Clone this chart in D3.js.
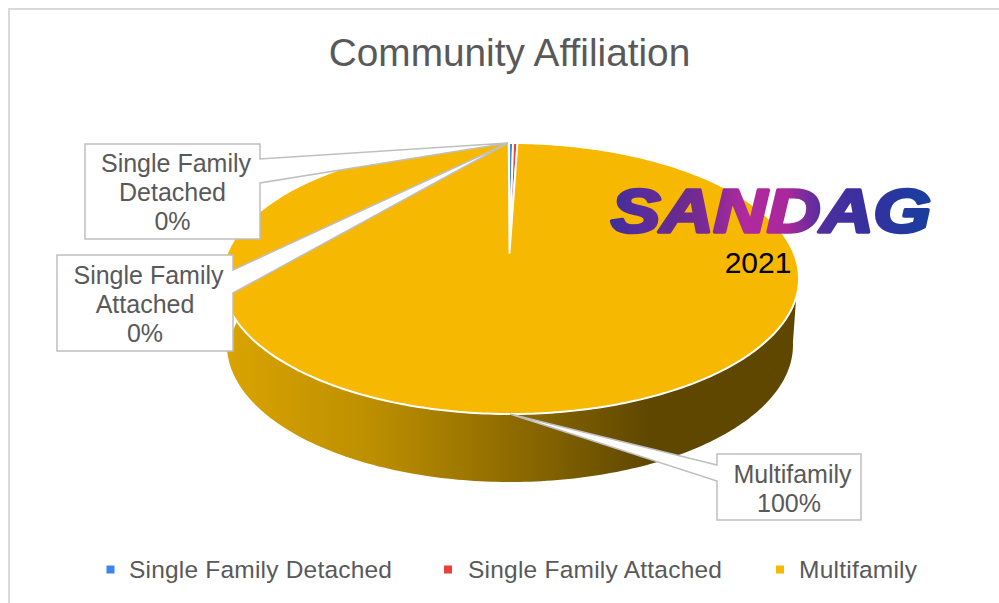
<!DOCTYPE html>
<html><head><meta charset="utf-8">
<script src="https://cdn.jsdelivr.net/npm/d3@7"></script>
<style>html,body{margin:0;padding:0;background:#fff}svg{display:block}text{font-family:"Liberation Sans",Arial,sans-serif}</style>
</head><body><svg id="c" width="999" height="603"></svg>
<script>
const chartTitle = "Community Affiliation";
const categories = ["Single Family Detached", "Single Family Attached", "Multifamily"];
const values = [0.0024, 0.0024, 0.9952];
const colors = ["#3d85ee", "#e8403a", "#f6b800"];
const labelLines = [["Single Family", "Detached"], ["Single Family", "Attached"], ["Multifamily"]];
const logoText = "SANDAG";
const yearText = "2021";

// layout
const W = 999, H = 603;
const face = {cx: 510.5, cy: 278.5, rx: 288.5, ry: 135.5, apexX: 509.5, apexY: 253};
const base = {cx: 510, cy: 345, rx: 283, ry: 137};
const boxes = [
  {x0: 85, y0: 144, x1: 260, y1: 239, side: "right", p0: 159, p1: 183, tip: [508, 143], base: 172},
  {x0: 57, y0: 255, x1: 233, y1: 351, side: "right", p0: 270, p1: 293, tip: [508, 143], base: 284},
  {x0: 717, y0: 454, x1: 861, y1: 520, side: "left", p0: 465, p1: 481, tip: [510, 414], base: 483}
];
const legendLayout = [{sq: 106.5, tx: 129, w: 263}, {sq: 444, tx: 468, w: 254}, {sq: 776, tx: 799, w: 118}];

const svg = d3.select("#c");
const defs = svg.append("defs");

const xS = d3.scaleLinear().domain([-1, 1]).range([face.cx - face.rx, face.cx + face.rx]);
const yS = d3.scaleLinear().domain([-1, 1]).range([face.cy + face.ry, face.cy - face.ry]);
const edge = a => [xS(Math.sin(a)), yS(Math.cos(a))];
const xB = d3.scaleLinear().domain([-1, 1]).range([base.cx - base.rx, base.cx + base.rx]);
const yB = d3.scaleLinear().domain([-1, 1]).range([base.cy + base.ry, base.cy - base.ry]);
const edgeB = a => [xB(Math.sin(a)), yB(Math.cos(a))];
const line = d3.line();
const sweep = (a0, a1, n) => d3.range(n + 1).map(i => a0 + (a1 - a0) * i / n);

function gradient(id, x1, x2, stops) {
  const g = defs.append("linearGradient").attr("id", id).attr("gradientUnits", "userSpaceOnUse")
    .attr("x1", x1).attr("x2", x2).attr("y1", 0).attr("y2", 0);
  stops.forEach(s => g.append("stop").attr("offset", s[0]).attr("stop-color", s[1]));
}
gradient("wall", 228, 798, [[0, "#d9a300"], [0.25, "#bd8f00"], [0.5, "#8e6b00"], [0.74, "#5f4700"], [1, "#5f4700"]]);
gradient("logo", 610, 933, [[0, "#3f2f9a"], [0.1, "#5a2c9c"], [0.22, "#6a2a8e"], [0.3, "#7c2a96"], [0.42, "#b02a9e"], [0.55, "#a8289c"], [0.66, "#4e2f9e"], [0.78, "#3a2f9f"], [0.9, "#2438a0"], [1, "#1a3f9e"]]);

// frame
svg.append("path").attr("d", line([[9, H], [9, 9], [W, 9]])).attr("fill", "none").attr("stroke", "#d9d9d9").attr("stroke-width", 2);

// title
svg.append("text").attr("x", 509.5).attr("y", 66).attr("text-anchor", "middle").attr("font-size", 38.8).attr("fill", "#595959").text(chartTitle);

// side wall
const wallStart = 1.71, wallEnd = 4.39;
const wallPts = sweep(wallStart, wallEnd, 160).map(edge).concat(sweep(wallEnd + 0.32, wallStart - 0.16, 160).map(edgeB));
svg.append("path").attr("d", line(wallPts) + "Z").attr("fill", "url(#wall)");

// top face from pie
const pie = d3.pie().sort(null).startAngle(-0.006).endAngle(2 * Math.PI - 0.006);
const arcs = pie(values);
svg.append("g").selectAll("path").data(arcs).join("path")
  .attr("d", d => {
    const n = Math.max(2, Math.ceil((d.endAngle - d.startAngle) * 60));
    return line([[face.apexX, face.apexY]].concat(sweep(d.startAngle, d.endAngle, n).map(edge))) + "Z";
  })
  .attr("fill", (d, i) => colors[i]).attr("stroke", "#fff").attr("stroke-width", 2).attr("stroke-linejoin", "round");

// callouts
const fmt = d3.format(".0%");
const call = svg.append("g").selectAll("g").data(boxes).join("g");
call.append("path").attr("d", b => {
  const pts = b.side === "right"
    ? [[b.x0, b.y0], [b.x1, b.y0], [b.x1, b.p0], b.tip, [b.x1, b.p1], [b.x1, b.y1], [b.x0, b.y1]]
    : [[b.x0, b.y0], [b.x1, b.y0], [b.x1, b.y1], [b.x0, b.y1], [b.x0, b.p1], b.tip, [b.x0, b.p0]];
  return line(pts) + "Z";
}).attr("fill", "#fff").attr("stroke", "#bfbfbf").attr("stroke-width", 1.5);
call.each(function(b, i) {
  const g = d3.select(this);
  labelLines[i].concat([fmt(values[i])]).forEach((t, k) => {
    g.append("text").attr("x", (b.x0 + b.x1) / 2 + (k === 0 ? 3.5 : 0)).attr("y", b.base + k * 29)
      .attr("text-anchor", "middle").attr("font-size", 25).attr("fill", "#595959").text(t);
  });
});

// logo
svg.append("text").attr("x", 611).attr("y", 232).attr("font-size", 62).attr("font-weight", "bold").attr("font-style", "italic")
  .attr("textLength", 320).attr("lengthAdjust", "spacingAndGlyphs")
  .attr("fill", "url(#logo)").attr("stroke", "url(#logo)").attr("stroke-width", 3.5).attr("stroke-linejoin", "round").text(logoText);
svg.append("text").attr("x", 758).attr("y", 272.5).attr("text-anchor", "middle").attr("font-size", 30).attr("fill", "#000").text(yearText);

// legend
const leg = svg.append("g").selectAll("g").data(categories).join("g");
leg.append("rect").attr("x", (d, i) => legendLayout[i].sq).attr("y", 565.5).attr("width", 8).attr("height", 8).attr("fill", (d, i) => colors[i]);
leg.append("text").attr("x", (d, i) => legendLayout[i].tx).attr("y", 578).attr("font-size", 24.5).attr("fill", "#595959")
  .attr("textLength", (d, i) => legendLayout[i].w).attr("lengthAdjust", "spacing").text(d => d);
</script></body></html>
